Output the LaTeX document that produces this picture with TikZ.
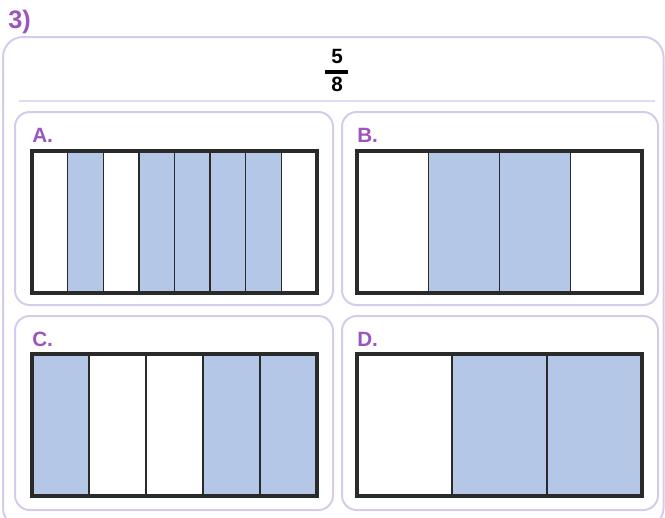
\documentclass[tikz,border=0pt]{standalone}
\usepackage{fontspec}
\setmainfont{Liberation Sans}
\definecolor{labelpurple}{RGB}{156,84,190}
\definecolor{panelline}{RGB}{215,203,236}
\definecolor{ruleline}{RGB}{226,218,242}
\definecolor{shadefill}{RGB}{180,199,231}
\definecolor{barline}{RGB}{42,42,42}

\tikzset{
    panel/.style={draw=panelline, line width=1.5pt, rounded corners=11pt},
    tag/.style={anchor=west, inner sep=0pt, text=labelpurple, font=\bfseries\fontsize{15.5}{18}\selectfont},
    digit/.style={inner sep=0pt, font=\bfseries\fontsize{15.5}{18}\selectfont},
    part/.style={draw=barline, line width=1.1pt},
    frame/.style={draw=barline, line width=2.3pt}
}

% #1 = x, #2 = y, #3 = number of parts, #4 = shaded parts
\newcommand{\fracbar}[4]{%
    \pgfmathsetmacro\partw{285/#3}
    \pgfmathtruncatemacro\lastcut{#3-1}
    \foreach \k in {#4} \fill[shadefill] ({#1+(\k-1)*\partw},#2) rectangle ++(\partw,142);
    \foreach \k in {1,...,\lastcut} \draw[part] ({#1+\k*\partw},#2) -- ++(0,142);
    \draw[frame] (#1,#2) rectangle ++(285,142);
}

\begin{document}
\begin{tikzpicture}[x=0.75pt, y=-0.75pt]
    \useasboundingbox (0,0) rectangle (665,518);

    \node (task) at (8,28) [anchor=base west, inner sep=0pt, text=labelpurple, font=\bfseries\fontsize{19}{22}\selectfont] {3)};

    \draw[panel, rounded corners=15pt] (3,37) rectangle (663.5,528);
    \draw[ruleline, line width=1.5pt] (19,101) -- (655,101);

    % fraction
    \node (num) at (337,56.5) [digit] {5};
    \node (den) at (337,84.5) [digit] {8};
    \draw[line width=2.6pt] (325,72) -- (348,72);

    % panels
    \draw[panel] (15,112) rectangle (333,305);
    \draw[panel] (342,112) rectangle (658,305);
    \draw[panel] (15,316) rectangle (333,510);
    \draw[panel] (342,316) rectangle (658,510);

    \node (tagA) at (32,135.5) [tag] {A.};
    \node (tagB) at (357,135.5) [tag] {B.};
    \node (tagC) at (32,339) [tag] {C.};
    \node (tagD) at (357,339) [tag] {D.};

    \fracbar{32}{151}{8}{2,4,5,6,7}
    \fracbar{357}{151}{4}{2,3}
    \fracbar{32}{354}{5}{1,4,5}
    \fracbar{357}{354}{3}{2,3}
\end{tikzpicture}
\end{document}
